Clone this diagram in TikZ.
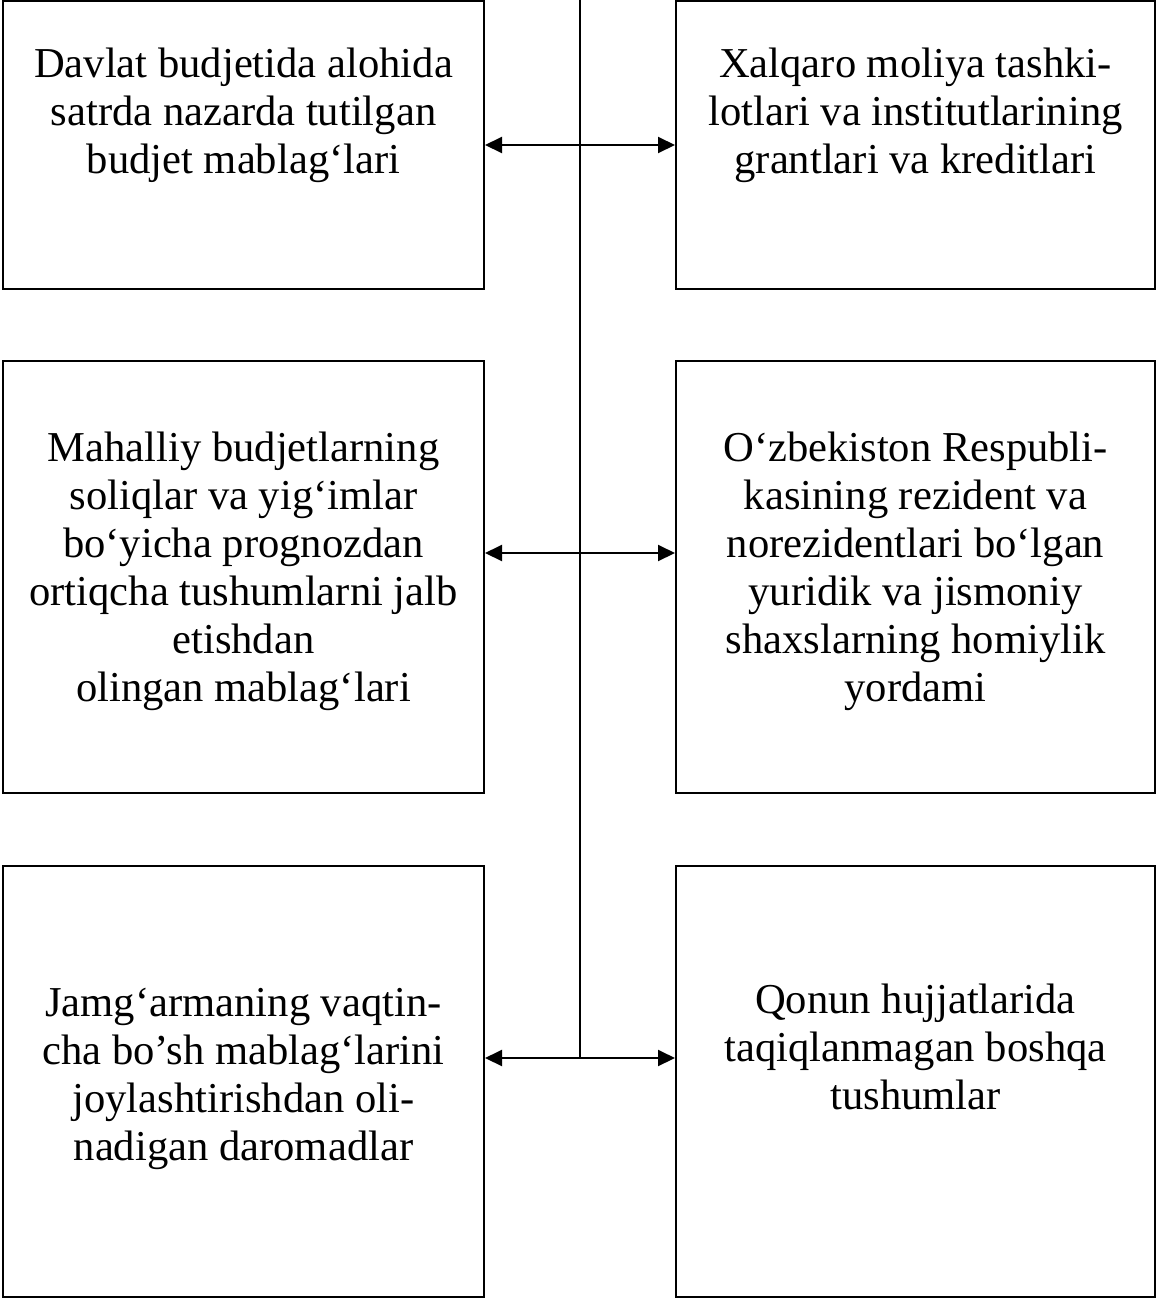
\documentclass[tikz,border=0pt]{standalone}
\usepackage{fontspec}
\setmainfont{Liberation Serif}
\usetikzlibrary{arrows.meta}
\newcommand{\boxlines}[1]{\fontsize{42.6}{48}\selectfont\begin{tabular}[t]{@{}c@{}}#1\end{tabular}}
\begin{document}
\begin{tikzpicture}[x=1pt,y=-1pt,
  box/.style={draw=black,line width=2pt,rectangle,inner sep=0pt},
  txt/.style={anchor=base,inner sep=0pt},
  spine/.style={line width=2pt},
  arr/.style={line width=2pt,{Triangle[length=17pt,width=16pt]}-{Triangle[length=17pt,width=16pt]}}]
\useasboundingbox (0,0) rectangle (1157,1299);
% boxes
\node[box,minimum width=481pt,minimum height=288pt] (tl) at (243.5,145) {};
\node[box,minimum width=479pt,minimum height=288pt] (tr) at (915.5,145) {};
\node[box,minimum width=481pt,minimum height=432pt] (ml) at (243.5,577) {};
\node[box,minimum width=479pt,minimum height=432pt] (mr) at (915.5,577) {};
\node[box,minimum width=481pt,minimum height=431pt] (bl) at (243.5,1081.5) {};
\node[box,minimum width=479pt,minimum height=431pt] (br) at (915.5,1081.5) {};
% texts
\node[txt] (tlt) at (243.5,77) {\boxlines{Davlat budjetida alohida\\satrda nazarda tutilgan\\budjet mablag‘lari}};
\node[txt] (trt) at (915.5,77) {\boxlines{Xalqaro moliya tashki-\\lotlari va institutlarining\\grantlari va kreditlari}};
\node[txt] (mlt) at (243.5,461) {\boxlines{Mahalliy budjetlarning\\soliqlar va yig‘imlar\\bo‘yicha prognozdan\\ortiqcha tushumlarni jalb\\etishdan\\olingan mablag‘lari}};
\node[txt] (mrt) at (915.5,461) {\boxlines{O‘zbekiston Respubli-\\kasining rezident va\\norezidentlari bo‘lgan\\yuridik va jismoniy\\shaxslarning homiylik\\yordami}};
\node[txt] (blt) at (243.5,1016) {\boxlines{Jamg‘armaning vaqtin-\\cha bo’sh mablag‘larini\\joylashtirishdan oli-\\nadigan daromadlar}};
\node[txt] (brt) at (915.5,1013) {\boxlines{Qonun hujjatlarida\\taqiqlanmagan boshqa\\tushumlar}};
% spine
\coordinate (top) at (580,0);
\coordinate (s1) at (580,145);
\coordinate (s2) at (580,553);
\coordinate (s3) at (580,1058);
\draw[spine] (top) -- (s3);
% arrows
\draw[arr] (tl.east |- s1) -- (tr.west |- s1);
\draw[arr] (ml.east |- s2) -- (mr.west |- s2);
\draw[arr] (bl.east |- s3) -- (br.west |- s3);
\end{tikzpicture}
\end{document}
